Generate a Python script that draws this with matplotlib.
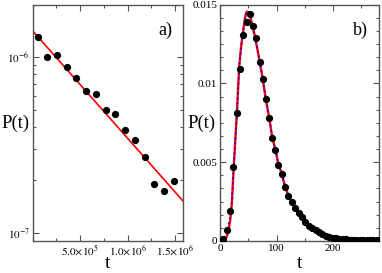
import matplotlib
matplotlib.use("Agg")
import matplotlib.pyplot as plt
from matplotlib.ticker import LogLocator, NullFormatter, MultipleLocator, FixedLocator

plt.rcParams['font.family'] = ['Liberation Serif', 'DejaVu Serif']
plt.rcParams['mathtext.fontset'] = 'stix'

# ---- panel a) data ----
t_a = [0.055e6, 0.156e6, 0.258e6, 0.360e6, 0.461e6, 0.563e6, 0.668e6, 0.771e6,
       0.872e6, 0.977e6, 1.079e6, 1.181e6, 1.282e6, 1.384e6, 1.486e6]
p_a = [1.30e-6, 0.996e-6, 1.022e-6, 8.77e-7, 7.54e-7, 6.36e-7, 6.16e-7, 4.98e-7,
       4.73e-7, 3.85e-7, 3.35e-7, 2.69e-7, 1.88e-7, 1.73e-7, 1.97e-7]
fit_t_a = [0.0, 1.584e6]
fit_p_a = [1.406e-6, 1.514e-7]
xtick_a = [5e5, 1e6, 1.5e6]
xtick_lab_a = [r'$5.0{\times}10^{5}$', r'$1.0{\times}10^{6}$', r'$1.5{\times}10^{6}$']
ytick_a = [1e-7, 1e-6]
ytick_lab_a = [r'$10^{-7}$', r'$10^{-6}$']

# ---- panel b) data ----
t_b = [4.5, 11.5, 17, 23, 29.5, 35, 41, 47, 52.5, 58.5, 64.5, 70, 75.5, 81, 87, 92.5,
       98, 103, 109, 115, 121, 127, 133, 139, 145, 151, 157, 163, 169, 175, 181, 187,
       193, 199, 205, 211, 217, 223, 229, 235, 241, 247, 253, 259, 265, 271, 277]
p_b = [0.00013, 0.00072, 0.00191, 0.00472, 0.00812, 0.01094, 0.01306, 0.01391, 0.0144,
       0.01365, 0.01291, 0.01136, 0.01031, 0.00899, 0.0078, 0.00655,
       0.00576, 0.00482, 0.00428, 0.00344, 0.00288, 0.00246, 0.0021, 0.00178, 0.0015,
       0.00122, 0.00098, 0.00085, 0.00068, 0.00054, 0.00042, 0.00032,
       0.00025, 0.0002, 0.00017, 0.00014, 0.00012, 0.0001, 0.00009, 0.00008, 0.00007,
       0.00006, 0.00006, 0.00005, 0.00005, 0.00004, 0.00004]
fit_t_b = [8, 11, 14, 18, 21, 24, 27.5, 30, 32, 34, 37.5, 40.5, 43.5, 46, 48, 50, 52.5,
           56.5, 61, 66, 70, 75, 81, 87, 92.5, 98, 103, 109, 115, 121, 127, 133, 139,
           145, 152, 160, 170, 180, 190, 200, 220, 240, 260, 280]
fit_p_b = [0.0, 0.0002, 0.0005, 0.0013, 0.0024, 0.0045, 0.0067, 0.0082, 0.0097, 0.0111,
           0.0124, 0.0132, 0.0140, 0.01445, 0.01457, 0.01452, 0.0144,
           0.01378, 0.0131, 0.0122, 0.0114, 0.0104, 0.0090, 0.0078, 0.00655, 0.0058,
           0.0049, 0.0043, 0.00345, 0.0029, 0.00246, 0.0021, 0.00178,
           0.0015, 0.0012, 0.00092, 0.00068, 0.0005, 0.00036, 0.00026, 0.00014, 0.00008,
           0.00005, 0.00003]
fit2_t_b = [0, 5, 10, 14, 18, 21, 24, 27.5, 30, 32, 34, 37.5, 40.5, 43.5, 46, 48, 50, 52.5,
            56.5, 61, 66, 70, 75, 81, 87, 92.5, 98, 103, 109, 115, 121, 127, 133, 139, 145, 152]
fit2_p_b = [0.0, 0.0001, 0.0004, 0.0008, 0.0016, 0.0026, 0.0046, 0.0067, 0.0082, 0.0097,
            0.0111, 0.0124, 0.0132, 0.0140, 0.01445, 0.01457, 0.01452, 0.0144,
            0.01378, 0.0131, 0.0122, 0.0114, 0.0104, 0.0090, 0.0078, 0.00655, 0.0058,
            0.0049, 0.0043, 0.00345, 0.0029, 0.00246, 0.0021, 0.00178, 0.0015, 0.0012]

W, H = 382, 273
fig = plt.figure(figsize=(W / 100, H / 100), dpi=100)

def frac(x0, y0, x1, y1):
    return [x0 / W, 1 - y1 / H, (x1 - x0) / W, (y1 - y0) / H]

spine_col = '#555555'

def style(ax):
    for s in ax.spines.values():
        s.set_color(spine_col)
        s.set_linewidth(1.0)
    ax.tick_params(which='both', direction='in', top=True, right=True,
                   color=spine_col, labelsize=8, pad=2)
    ax.tick_params(which='major', length=4, width=0.8)
    ax.tick_params(which='minor', length=2.5, width=0.8)

# Panel a
ax1 = fig.add_axes(frac(32.5, 4.7, 183, 240.5))
ax1.set_yscale('log')
ax1.plot(fit_t_a, fit_p_a, color='#ff0000', lw=1.2, zorder=2)
ax1.plot(t_a, p_a, 'o', color='black', ms=4.2, zorder=3)
ax1.set_xlim(0, 1.584e6)
ax1.set_ylim(9.03e-8, 1.974e-6)
ax1.xaxis.set_major_locator(FixedLocator(xtick_a))
ax1.set_xticklabels(xtick_lab_a)
ax1.xaxis.set_minor_locator(MultipleLocator(2.5e5))
ax1.yaxis.set_major_locator(FixedLocator(ytick_a))
ax1.set_yticklabels(ytick_lab_a)
ax1.yaxis.set_minor_locator(LogLocator(base=10, subs=[2, 3, 4, 5, 6, 7, 8, 9]))
ax1.yaxis.set_minor_formatter(NullFormatter())
style(ax1)
ax1.text(0.93, 0.93, 'a)', transform=ax1.transAxes, ha='right', va='top', fontsize=13)
fig.text(16 / W, 1 - 123 / H, 'P(t)', ha='center', va='center', fontsize=13.5)
fig.text(108 / W, 1 - 263 / H, 't', ha='center', va='center', fontsize=14)

# Panel b
ax2 = fig.add_axes(frac(220, 4.7, 379, 241))
ax2.plot(fit_t_b, fit_p_b, color='#ff0000', lw=1.7, zorder=2)
ax2.plot(fit2_t_b, fit2_p_b, color='#0000ff', lw=1.2, ls=(0, (1, 2)), zorder=3)
ax2.plot(t_b, p_b, 'o', color='black', ms=4.2, zorder=4)
ax2.set_xlim(0, 281)
ax2.set_ylim(0, 0.015)
ax2.xaxis.set_major_locator(MultipleLocator(100))
ax2.xaxis.set_minor_locator(MultipleLocator(50))
ax2.yaxis.set_major_locator(FixedLocator([0, 0.005, 0.01, 0.015]))
ax2.set_yticklabels(['0', '0.005', '0.01', '0.015'])
ax2.yaxis.set_minor_locator(MultipleLocator(0.005 / 6))
style(ax2)
ax2.text(0.93, 0.93, 'b)', transform=ax2.transAxes, ha='right', va='top', fontsize=13)
fig.text(202 / W, 1 - 123 / H, 'P(t)', ha='center', va='center', fontsize=13.5)
fig.text(300 / W, 1 - 263 / H, 't', ha='center', va='center', fontsize=14)

fig.savefig('out.png', dpi=100)
